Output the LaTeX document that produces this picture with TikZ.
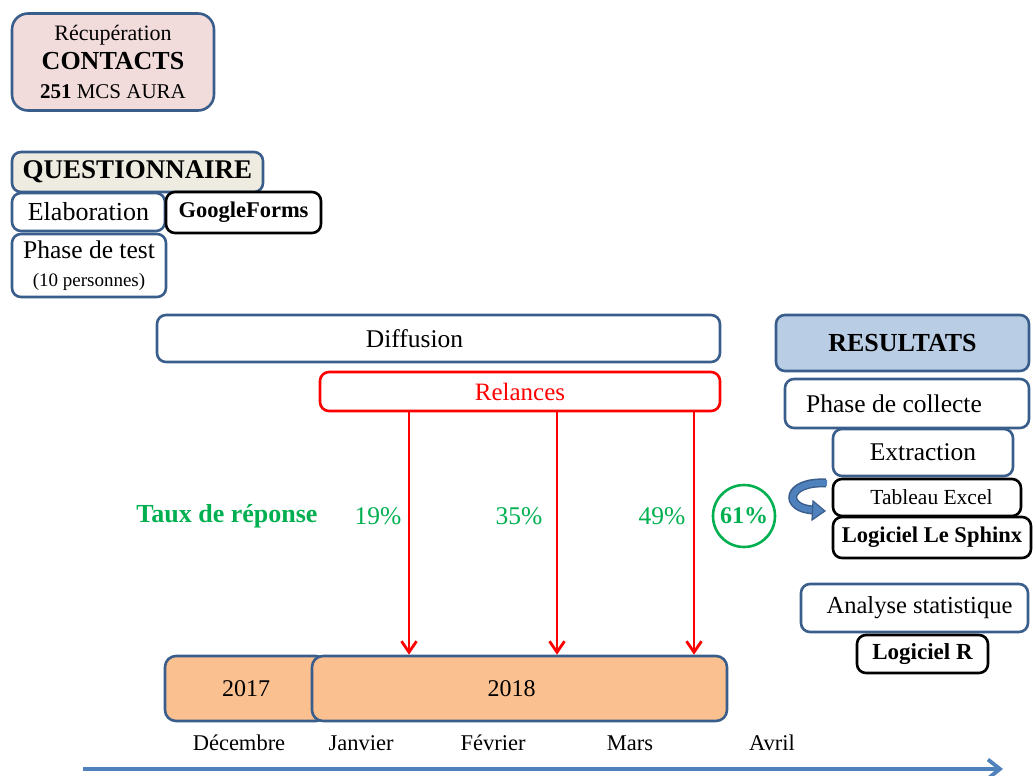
\documentclass[tikz,border=0pt]{standalone}
\usepackage{fontspec}
\setmainfont{Liberation Serif}
\usetikzlibrary{arrows.meta,calc}

\definecolor{frameblue}{RGB}{58,94,140}
\definecolor{pinkfill}{RGB}{242,220,219}
\definecolor{beigefill}{RGB}{238,236,225}
\definecolor{resfill}{RGB}{185,205,229}
\definecolor{yearfill}{RGB}{250,192,144}
\definecolor{ratgreen}{RGB}{0,176,80}
\definecolor{relred}{RGB}{255,0,0}
\definecolor{axisblue}{RGB}{79,129,189}

\tikzset{
  box/.style={draw=frameblue, line width=2.6pt, rounded corners=9pt, fill=white,
    inner sep=0pt, align=center, font=\fontsize{25.5}{29}\selectfont},
  blackbox/.style={box, draw=black},
  yearbox/.style={box, fill=yearfill, rounded corners=11pt, font=\fontsize{24}{28}\selectfont},
  rate/.style={text=ratgreen, font=\fontsize{25.5}{29}\selectfont},
  month/.style={font=\fontsize{22.5}{26}\selectfont},
  relarrow/.style={draw=relred, line width=2.8pt, -{Straight Barb[length=11pt,width=15pt]}},
  timeline/.style={draw=axisblue, line width=3.8pt, -{Straight Barb[length=12pt,width=19pt]}},
}

\begin{document}
\begin{tikzpicture}[x=1pt,y=-1pt]
\useasboundingbox (0,0) rectangle (1034,776);

% --- left column: contacts and questionnaire
\node[box, fill=pinkfill, rounded corners=16pt, minimum width=202pt, minimum height=97pt]
  (rec) at (113,62)
  {{\fontsize{22}{28.5}\selectfont Récupération}\\
   {\fontsize{26}{28.5}\selectfont\bfseries CONTACTS}\\
   {\fontsize{21}{28.5}\selectfont\textbf{251} MCS AURA}};
\node[box, fill=beigefill, minimum width=251pt, minimum height=40pt, font=\fontsize{27}{31}\selectfont\bfseries]
  (quest) at (137.5,172) {QUESTIONNAIRE};
\node[box, minimum width=153pt, minimum height=38pt, font=\fontsize{26}{30}\selectfont] (elab) at (88.5,212) {Elaboration};
\node[blackbox, minimum width=155pt, minimum height=41pt, font=\fontsize{22.5}{26}\selectfont\bfseries]
  (gf) at (243.5,212.5) {GoogleForms};
\node[box, minimum width=154pt, minimum height=63pt] (test) at (89,265.5)
  {Phase de test\\[-1pt]{\fontsize{19}{22}\selectfont (10 personnes)}};

% --- diffusion and reminders
\node[box, minimum width=563pt, minimum height=47pt] (diff) at (438.5,338.5) {Diffusion\hspace*{48pt}};
\node[box, draw=relred, text=relred, minimum width=400pt, minimum height=39pt, font=\fontsize{25}{28}\selectfont]
  (rel) at (520,391.5) {Relances};

% --- response rates
\node[rate, font=\fontsize{26}{30}\selectfont\bfseries] (taux) at (227,516) {Taux de réponse};
\node[rate] (p19) at (378,516) {19\%};
\node[rate] (p35) at (519,516) {35\%};
\node[rate] (p49) at (662,516) {49\%};
\node[circle, draw=ratgreen, line width=2.6pt, minimum size=62pt, inner sep=0pt, text=ratgreen,
  font=\fontsize{24}{28}\selectfont\bfseries] (p61) at (744,516) {61\%};

% --- years
\node[yearbox, minimum width=162pt, minimum height=65pt] (y17) at (246,688.5) {2017};
\node[yearbox, minimum width=415pt, minimum height=65pt] (y18) at (519.5,688.5) {2018\hspace*{16pt}};

% --- reminder arrows
\coordinate (r1) at ($(rel.south)+(-111,0)$);
\coordinate (r2) at ($(rel.south)+(37,0)$);
\coordinate (r3) at ($(rel.south)+(174,0)$);
\draw[relarrow] (r1) -- (r1 |- y18.north);
\draw[relarrow] (r2) -- (r2 |- y18.north);
\draw[relarrow] (r3) -- (r3 |- y18.north);

% --- months and time axis
\node[month] (dec) at (239,743) {Décembre};
\node[month] (jan) at (361,743) {Janvier};
\node[month] (feb) at (493,743) {Février};
\node[month] (mar) at (630,743) {Mars};
\node[month] (apr) at (772,743) {Avril};
\coordinate (ax0) at (83,769);
\coordinate (ax1) at (1003,769);
\draw[timeline] (ax0) -- (ax1);

% --- right column: results
\node[box, fill=resfill, minimum width=253pt, minimum height=56pt, font=\fontsize{26}{30}\selectfont\bfseries]
  (res) at (902.5,343) {RESULTATS};
\node[box, minimum width=244pt, minimum height=49pt] (coll) at (907,403.5) {Phase de collecte\hspace*{26pt}};
\node[box, minimum width=180pt, minimum height=47pt] (ext) at (923,452.5) {Extraction};
\node[blackbox, minimum width=188pt, minimum height=37pt, font=\fontsize{21.5}{25}\selectfont]
  (excel) at (927,497.5) {\hspace*{9pt}Tableau Excel};
\node[blackbox, minimum width=198pt, minimum height=41pt, font=\fontsize{22.5}{26}\selectfont\bfseries]
  (sphinx) at (932,537.5) {Logiciel Le Sphinx};
\node[box, minimum width=227pt, minimum height=48pt, font=\fontsize{24.5}{28}\selectfont]
  (ana) at (914.5,608) {\hspace*{10pt}Analyse statistique};
\node[blackbox, minimum width=131pt, minimum height=38pt, font=\fontsize{23}{27}\selectfont\bfseries]
  (lr) at (922.5,654) {Logiciel R};

% --- curved arrow beside the spreadsheet box
\draw[line width=9pt, draw=frameblue] (826,483) .. controls (785,481) and (783,509) .. (814,510);
\draw[line width=6pt, draw=axisblue] (827,483) .. controls (785,481) and (783,509) .. (814,510);
\filldraw[fill=axisblue, draw=frameblue, line width=1.2pt] (813,501) -- (825,511) -- (812,520) -- cycle;
\end{tikzpicture}
\end{document}
